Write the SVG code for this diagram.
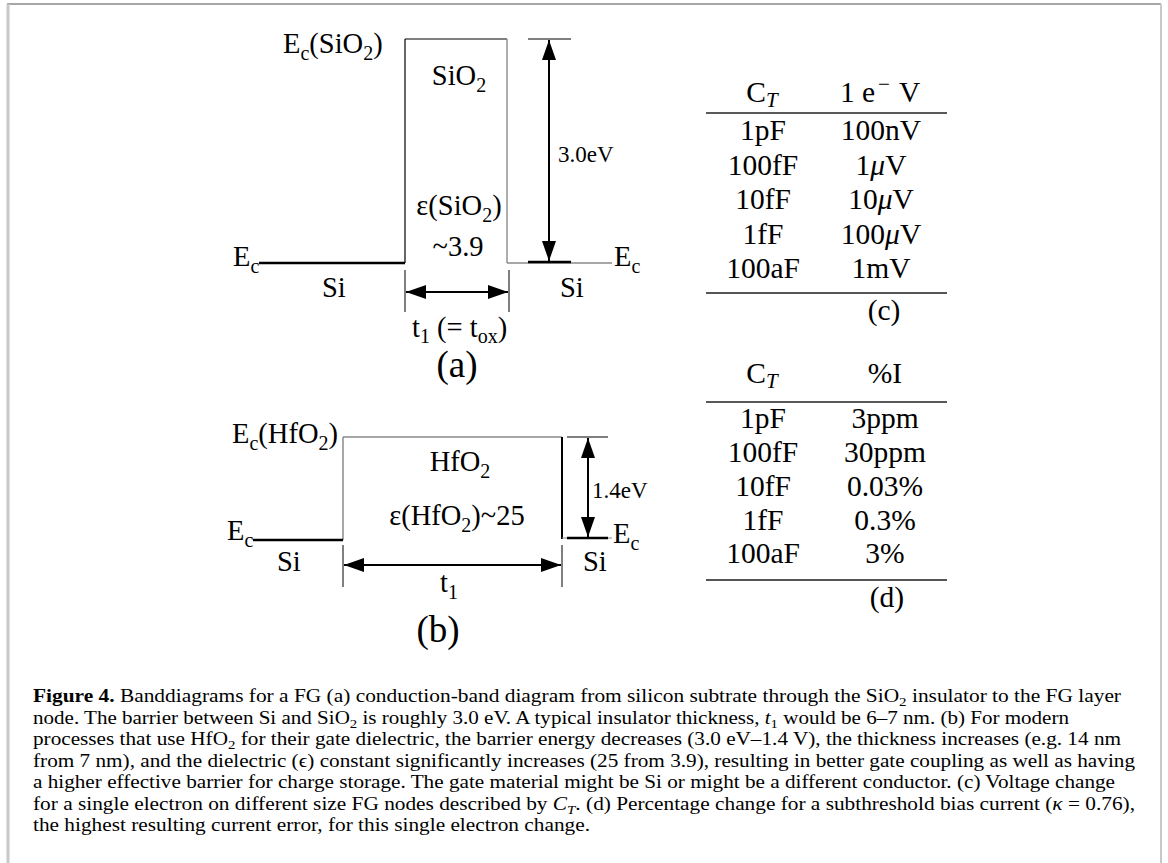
<svg xmlns="http://www.w3.org/2000/svg" width="1168" height="863" viewBox="0 0 1168 863">
<style>
.t{font-family:"Liberation Serif","Times New Roman",serif;fill:#000}
.d{font-size:28.5px}
.s{font-size:23px}
.tb{font-size:29.5px}
.cap{font-size:18.5px}
.bk{stroke:#000;fill:none}
.gr{stroke:#8a8a8a;fill:none}
</style>
<defs>
<marker id="ah" viewBox="0 0 20 14" refX="20" refY="7" markerWidth="20" markerHeight="14" markerUnits="userSpaceOnUse" orient="auto-start-reverse">
<path d="M0,0 L20,7 L0,14 Z" fill="#000"/>
</marker>
</defs>
<g id="frame">
<line x1="7" y1="4" x2="1161" y2="4" stroke="#888" stroke-width="1.5"/>
<line x1="8" y1="4" x2="8" y2="863" stroke="#c8c8c8" stroke-width="3"/>
<line x1="1161" y1="4" x2="1161" y2="863" stroke="#c8c8c8" stroke-width="2"/>
</g>
<g id="diagram-a">
<line class="bk" x1="405" y1="39" x2="405" y2="263" stroke-width="1.2"/>
<line class="bk" x1="405" y1="39" x2="507" y2="39" stroke-width="1.2"/>
<line class="gr" x1="507" y1="39" x2="507" y2="263" stroke-width="1.4"/>
<line class="bk" x1="259" y1="263" x2="405" y2="263" stroke-width="2.5"/>
<line class="gr" x1="507" y1="263" x2="612" y2="263" stroke-width="1.5"/>
<line class="bk" x1="528" y1="262" x2="571" y2="262" stroke-width="2.5"/>
<line class="bk" x1="528" y1="39" x2="571" y2="39" stroke-width="1.2"/>
<line class="bk" x1="405" y1="270" x2="405" y2="312" stroke-width="1"/>
<line class="bk" x1="509" y1="270" x2="509" y2="312" stroke-width="1"/>
<text class="t d" x="283" y="53">E<tspan font-size="20" dy="7">c</tspan><tspan dy="-7">(SiO</tspan><tspan font-size="20" dy="7">2</tspan><tspan dy="-7">)</tspan></text>
<text class="t d" x="459" y="85" text-anchor="middle">SiO<tspan font-size="20" dy="7">2</tspan></text>
<text class="t s" x="558" y="162">3.0eV</text>
<text class="t d" x="459" y="215" text-anchor="middle">ε(SiO<tspan font-size="20" dy="7">2</tspan><tspan dy="-7">)</tspan></text>
<text class="t d" x="458" y="256" text-anchor="middle">~3.9</text>
<text class="t d" x="233" y="266">E<tspan font-size="20" dy="7">c</tspan></text>
<text class="t d" x="614" y="266">E<tspan font-size="20" dy="7">c</tspan></text>
<text class="t d" x="322" y="297">Si</text>
<text class="t d" x="560" y="297">Si</text>
<text class="t d" x="412" y="337">t<tspan font-size="20" dy="6">1</tspan><tspan dy="-6"> (= t</tspan><tspan font-size="20" dy="6">ox</tspan><tspan dy="-6">)</tspan></text>
<text class="t" x="457" y="377" font-size="37" text-anchor="middle">(a)</text>
</g>
<g id="diagram-b">
<line class="gr" x1="343" y1="437" x2="562" y2="437" stroke-width="1.5"/>
<line class="gr" x1="343" y1="437" x2="343" y2="540" stroke-width="1.5"/>
<line class="bk" x1="562" y1="437" x2="562" y2="539" stroke-width="2"/>
<line class="bk" x1="253" y1="540" x2="343" y2="540" stroke-width="2.5"/>
<line class="gr" x1="562" y1="538" x2="612" y2="538" stroke-width="1.2"/>
<line class="bk" x1="567" y1="538" x2="608" y2="538" stroke-width="2.5"/>
<line class="bk" x1="567" y1="437" x2="608" y2="437" stroke-width="1.2"/>
<line class="bk" x1="343" y1="545" x2="343" y2="587" stroke-width="1"/>
<line class="bk" x1="562" y1="545" x2="562" y2="587" stroke-width="1"/>
<text class="t d" x="232" y="443">E<tspan font-size="20" dy="7">c</tspan><tspan dy="-7">(HfO</tspan><tspan font-size="20" dy="7">2</tspan><tspan dy="-7">)</tspan></text>
<text class="t d" x="460" y="471" text-anchor="middle">HfO<tspan font-size="20" dy="7">2</tspan></text>
<text class="t s" x="592" y="498">1.4eV</text>
<text class="t d" x="457" y="525" text-anchor="middle">ε(HfO<tspan font-size="20" dy="7">2</tspan><tspan dy="-7">)~25</tspan></text>
<text class="t d" x="227" y="540">E<tspan font-size="20" dy="7">c</tspan></text>
<text class="t d" x="613" y="543">E<tspan font-size="20" dy="7">c</tspan></text>
<text class="t d" x="277" y="571">Si</text>
<text class="t d" x="583" y="571">Si</text>
<text class="t d" x="440" y="592">t<tspan font-size="20" dy="7">1</tspan></text>
<text class="t" x="438" y="642" font-size="37" text-anchor="middle">(b)</text>
</g>
<g id="connectors">
<line x1="549" y1="40" x2="549" y2="261" stroke="#000" stroke-width="2" marker-start="url(#ah)" marker-end="url(#ah)"/>
<line x1="406" y1="292" x2="508" y2="292" stroke="#000" stroke-width="2" marker-start="url(#ah)" marker-end="url(#ah)"/>
<line x1="588" y1="438" x2="588" y2="537" stroke="#000" stroke-width="2" marker-start="url(#ah)" marker-end="url(#ah)"/>
<line x1="344" y1="565" x2="561" y2="565" stroke="#000" stroke-width="2" marker-start="url(#ah)" marker-end="url(#ah)"/>
</g>
<g id="table-c">
<line x1="706" y1="113" x2="947" y2="113" stroke="#222" stroke-width="1.5"/>
<line x1="706" y1="293" x2="947" y2="293" stroke="#555" stroke-width="2"/>
<text class="t tb" x="762" y="102" text-anchor="middle">C<tspan font-size="21" font-style="italic" dy="5">T</tspan></text>
<text class="t tb" y="102"><tspan x="840">1</tspan><tspan x="862">e</tspan><tspan x="878" dy="-11" font-size="21">−</tspan><tspan x="899" dy="11">V</tspan></text>
<text class="t tb" x="763" y="140" text-anchor="middle">1pF</text>
<text class="t tb" x="881" y="140" text-anchor="middle">100nV</text>
<text class="t tb" x="763" y="174.5" text-anchor="middle">100fF</text>
<text class="t tb" x="881" y="174.5" text-anchor="middle">1<tspan font-style="italic">μ</tspan>V</text>
<text class="t tb" x="763" y="209" text-anchor="middle">10fF</text>
<text class="t tb" x="881" y="209" text-anchor="middle">10<tspan font-style="italic">μ</tspan>V</text>
<text class="t tb" x="763" y="243.5" text-anchor="middle">1fF</text>
<text class="t tb" x="881" y="243.5" text-anchor="middle">100<tspan font-style="italic">μ</tspan>V</text>
<text class="t tb" x="763" y="278" text-anchor="middle">100aF</text>
<text class="t tb" x="881" y="278" text-anchor="middle">1mV</text>
<text class="t tb" x="884" y="320" text-anchor="middle">(c)</text>
</g>
<g id="table-d">
<line x1="706" y1="402" x2="947" y2="402" stroke="#222" stroke-width="1.5"/>
<line x1="706" y1="580" x2="947" y2="580" stroke="#555" stroke-width="2"/>
<text class="t tb" x="762" y="383" text-anchor="middle">C<tspan font-size="21" font-style="italic" dy="5">T</tspan></text>
<text class="t tb" x="885" y="383" text-anchor="middle">%I</text>
<text class="t tb" x="763" y="428" text-anchor="middle">1pF</text>
<text class="t tb" x="885" y="428" text-anchor="middle">3ppm</text>
<text class="t tb" x="763" y="462" text-anchor="middle">100fF</text>
<text class="t tb" x="885" y="462" text-anchor="middle">30ppm</text>
<text class="t tb" x="763" y="496" text-anchor="middle">10fF</text>
<text class="t tb" x="885" y="496" text-anchor="middle">0.03%</text>
<text class="t tb" x="763" y="530" text-anchor="middle">1fF</text>
<text class="t tb" x="885" y="530" text-anchor="middle">0.3%</text>
<text class="t tb" x="763" y="563" text-anchor="middle">100aF</text>
<text class="t tb" x="885" y="563" text-anchor="middle">3%</text>
<text class="t tb" x="887" y="607" text-anchor="middle">(d)</text>
</g>
<g id="caption" class="t cap">
<text x="33" y="702" textLength="1088" lengthAdjust="spacingAndGlyphs"><tspan font-weight="bold">Figure 4.</tspan> Banddiagrams for a FG (a) conduction-band diagram from silicon subtrate through the SiO<tspan font-size="13" dy="4">2</tspan><tspan dy="-4"> insulator to the FG layer</tspan></text>
<text x="33" y="723.5" textLength="1036" lengthAdjust="spacingAndGlyphs">node. The barrier between Si and SiO<tspan font-size="13" dy="4">2</tspan><tspan dy="-4"> is roughly 3.0 eV. A typical insulator thickness, </tspan><tspan font-style="italic">t</tspan><tspan font-size="13" dy="4">1</tspan><tspan dy="-4"> would be 6–7 nm. (b) For modern</tspan></text>
<text x="33" y="745" textLength="1088" lengthAdjust="spacingAndGlyphs">processes that use HfO<tspan font-size="13" dy="4">2</tspan><tspan dy="-4"> for their gate dielectric, the barrier energy decreases (3.0 eV–1.4 V), the thickness increases (e.g. 14 nm</tspan></text>
<text x="33" y="766.5" textLength="1102" lengthAdjust="spacingAndGlyphs">from 7 nm), and the dielectric (ϵ) constant significantly increases (25 from 3.9), resulting in better gate coupling as well as having</text>
<text x="33" y="788" textLength="1082" lengthAdjust="spacingAndGlyphs">a higher effective barrier for charge storage. The gate material might be Si or might be a different conductor. (c) Voltage change</text>
<text x="33" y="809.5" textLength="1102" lengthAdjust="spacingAndGlyphs">for a single electron on different size FG nodes described by <tspan font-style="italic">C</tspan><tspan font-size="13" font-style="italic" dy="4">T</tspan><tspan dy="-4">. (d) Percentage change for a subthreshold bias current (</tspan><tspan font-style="italic">κ</tspan> = 0.76),</text>
<text x="33" y="831" textLength="557" lengthAdjust="spacingAndGlyphs">the highest resulting current error, for this single electron change.</text>
</g>
</svg>
